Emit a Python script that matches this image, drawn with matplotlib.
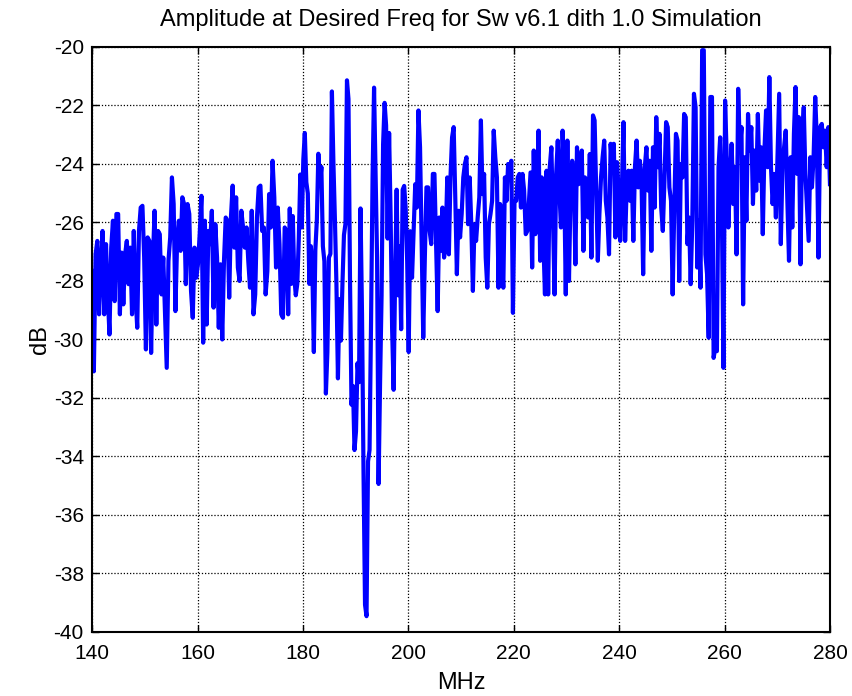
import numpy as np
import matplotlib
matplotlib.use("Agg")
import matplotlib.pyplot as plt

# Measured amplitude (dB) over the sweep, stored per frequency band
band_edges_mhz = [(140.0, 177.2), (177.5, 200.35), (200.7, 239.9), (240.2, 280.0)]

db_band_a = [
    -27.66, -31.09, -27.09, -26.63, -29.14, -27.54, -26.29, -29.14, -26.74, -28.46,
    -29.83, -26.86, -25.94, -28.69, -25.71, -25.71, -29.14, -27.03, -28.80, -27.09,
    -26.63, -28.11, -26.86, -29.14, -26.29, -28.46, -29.60, -26.29, -25.49, -25.43,
    -27.20,
    -30.34, -26.51, -26.63, -30.46, -27.31, -25.60, -29.49, -26.29, -26.40, -28.46,
    -27.20, -29.03, -30.97, -27.31, -26.51, -24.46, -25.37, -29.03, -26.63, -25.94,
    -26.97, -25.14, -25.37, -28.11, -25.37, -25.71, -28.34, -29.26, -26.86, -27.89,
    -27.43, -26.40, -25.09, -30.11, -25.94, -29.49, -26.29, -26.74, -25.60, -28.91,
    -26.06, -27.20, -29.60, -27.43, -30.00, -27.31, -25.83, -25.94, -28.57, -25.83,
    -24.74, -26.86, -25.14, -27.54, -28.00, -25.60, -26.17, -26.86, -26.17, -27.31,
    -28.23, -25.60, -29.14, -28.46, -25.83, -24.80, -24.74, -26.29, -26.17, -28.46,
    -27.66, -25.03, -26.17, -23.89, -25.14, -27.54, -25.49, -26.74, -29.14, -29.26,
    -26.17, -26.29, -29.14,
]

db_band_b = [
    -25.52, -28.10, -25.78, -27.85, -28.49, -28.10, -26.55, -24.36, -26.17, -23.85,
    -22.94, -24.62, -25.01, -28.10, -26.81, -27.59, -30.43, -26.94, -25.91, -23.65,
    -24.75, -24.10, -26.81, -27.33, -31.85, -30.43, -27.20, -27.07, -21.52, -23.97,
    -25.91, -28.10, -31.33, -28.62, -30.04, -28.10, -26.43, -26.04, -21.14, -21.78,
    -27.85, -32.23, -31.59, -33.78, -33.14, -30.81, -31.46, -25.52, -29.14, -34.55,
    -39.07, -39.46, -34.17, -33.78, -29.39, -24.49, -21.39, -24.36, -27.20, -34.94,
    -31.46, -28.49, -23.33, -21.91, -22.68, -26.55, -22.94, -25.78, -29.65, -31.72,
    -27.85, -24.88, -28.49, -26.81, -29.65, -24.88, -24.75, -25.52, -27.33, -30.43,
    -26.30,
]

db_band_c = [
    -27.89, -26.29, -24.69, -25.49, -22.17, -23.43, -26.63, -29.94, -27.20, -24.80,
    -24.80, -26.29, -26.74, -24.34, -24.34, -26.74, -29.03, -25.83, -26.97, -25.49,
    -27.20, -26.63, -24.46, -27.09, -24.46, -23.09, -22.74, -25.14, -27.77, -25.60,
    -26.51, -25.71, -24.46, -24.00, -23.77, -26.06, -24.46, -26.06, -28.34, -26.06,
    -26.63, -25.83, -25.14, -22.51, -25.03, -24.34, -27.20, -28.23, -26.06, -25.71,
    -25.26, -22.86, -23.77, -24.46, -28.23, -25.37, -27.09, -28.23, -24.46, -25.26,
    -24.00, -24.23, -23.89, -29.09, -25.26, -25.26, -24.46, -24.34, -25.49, -24.34,
    -24.91, -26.40, -26.29, -25.26, -24.29, -27.54, -23.54, -26.40, -25.03, -22.86,
    -27.31, -24.46, -26.63, -28.46, -24.23, -28.46, -24.11, -23.43, -25.83, -28.46,
    -24.34, -23.20, -24.91, -26.17, -22.86, -24.57, -28.46, -23.20, -28.00, -24.91,
    -23.89, -24.46, -27.43, -23.43, -24.69, -24.23, -23.54, -26.97, -24.46, -24.80,
    -25.83, -23.66, -27.20, -22.34, -22.51, -24.91, -27.31, -25.71, -24.46, -23.77,
    -23.20, -25.26, -25.83, -27.09, -23.31, -24.11, -23.31, -26.51, -23.94, -24.91,
]

db_band_d = [
    -26.63, -24.91, -22.57, -26.63, -24.69, -24.23, -25.26, -24.23, -26.63, -24.11,
    -23.20, -24.80, -23.89, -24.57, -27.77, -24.11, -23.43, -24.91, -23.89, -26.97,
    -23.43, -25.49, -22.40, -24.11, -22.97, -25.49, -26.29, -24.57, -22.57, -22.74,
    -24.80, -25.26, -28.46, -25.49, -22.97, -23.20, -28.00, -24.00, -24.46, -22.29,
    -22.40, -26.74, -25.83, -28.11, -25.94, -21.60, -22.06, -27.54, -25.94, -28.23,
    -20.11, -20.11, -27.09, -27.77, -29.94, -21.71, -21.71, -30.63, -30.29, -30.40,
    -24.11, -23.09, -25.49, -30.97, -21.83, -23.77, -26.17, -24.46, -23.31, -25.37,
    -24.11, -27.09, -21.43, -23.54, -22.74, -28.80, -23.77, -25.94, -22.29, -23.54,
    -22.74, -25.37, -23.54, -24.91, -22.29, -24.57, -23.43, -26.40, -23.54, -22.17,
    -24.11, -21.03, -24.11, -25.37, -24.34, -25.83, -23.77, -21.60, -26.74, -24.11,
    -23.43, -22.86, -25.26, -27.31, -23.77, -26.17, -22.97, -21.37, -24.34, -22.40,
    -27.43, -23.09, -22.06, -24.34, -25.49, -26.63, -23.77, -24.80, -23.77, -21.71,
    -23.20, -27.20, -22.74, -22.63, -23.43, -22.86, -24.11, -22.74, -24.69,
]

x_ticks = [140, 160, 180, 200, 220, 240, 260, 280]
y_ticks = [-40, -38, -36, -34, -32, -30, -28, -26, -24, -22, -20]

bands = [db_band_a, db_band_b, db_band_c, db_band_d]
freq = np.concatenate([np.linspace(lo, hi, len(vals))
                       for (lo, hi), vals in zip(band_edges_mhz, bands)])
amp = np.concatenate([np.asarray(v, dtype=float) for v in bands])

plt.rcParams['font.family'] = ['Liberation Sans', 'DejaVu Sans']

fig = plt.figure(figsize=(8.53, 6.96), dpi=100)
ax = fig.add_axes([0.108, 0.092, 0.865, 0.8405])

ax.plot(freq, amp, color=(0, 0, 1), linewidth=3.0, solid_joinstyle='round')

ax.set_xlim(140, 280)
ax.set_ylim(-40, -20)
ax.set_xticks(x_ticks)
ax.set_yticks(y_ticks)
ax.set_xticklabels([str(t) for t in x_ticks])
ax.set_yticklabels([str(t) for t in y_ticks])

ax.grid(True, color='black', linestyle=(0, (1, 1.5)), linewidth=0.9)
ax.tick_params(direction='in', length=5, width=1, labelsize=15,
               top=True, right=True)
ax.tick_params(axis='x', pad=9)
ax.tick_params(axis='y', pad=6)
for s in ax.spines.values():
    s.set_linewidth(1.5)

ax.set_title('Amplitude at Desired Freq for Sw v6.1 dith 1.0 Simulation',
             fontsize=17, pad=15)
ax.set_xlabel('MHz', fontsize=17, labelpad=6)
ax.set_ylabel('dB', fontsize=17, labelpad=2)

fig.savefig('out.png', dpi=100)
